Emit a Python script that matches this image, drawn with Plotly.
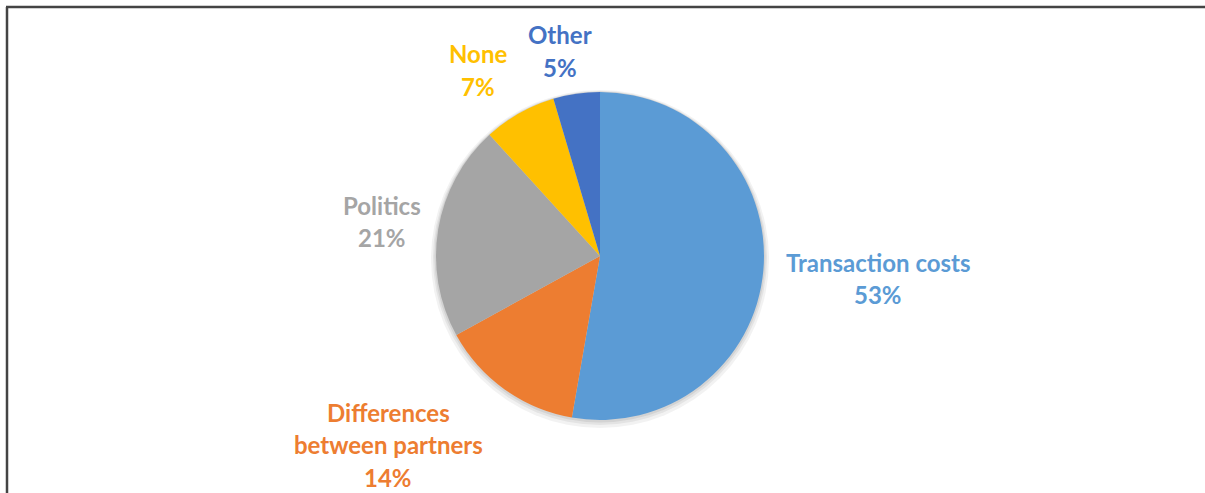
import plotly.graph_objects as go

# ---- data ----
labels = ["Transaction costs", "Differences between partners", "Politics", "None", "Other"]
label_lines = [["Transaction costs"], ["Differences", "between partners"], ["Politics"], ["None"], ["Other"]]
values = [52.9, 14.3, 21.3, 7.2, 4.6]
colors = ["#5B9BD5", "#ED7D31", "#A5A5A5", "#FFC000", "#4472C4"]

# ---- layout helpers (pixel positions of label centers) ----
W, H = 1205, 493
label_pos = [(878, 262), (388, 412), (382, 205), (478, 54), (560, 35)]
line_gap = 32.5

cx, cy, r = 600, 256, 164

def px(x):
    return x / W

def py(y):
    return 1 - y / H

fig = go.Figure()

# soft shadow layers
for grow, dy, a in [(5, 3, 0.05), (3, 2, 0.06), (1.5, 1, 0.07)]:
    rr = r + grow
    fig.add_trace(go.Pie(
        values=[1], labels=["shadow"], marker=dict(colors=[f"rgba(0,0,0,{a})"]),
        textinfo="none", hoverinfo="skip", showlegend=False, sort=False,
        domain=dict(x=[px(cx - rr), px(cx + rr)], y=[py(cy + dy + rr), py(cy + dy - rr)]),
    ))

fig.add_trace(go.Pie(
    labels=labels, values=values, sort=False, direction="clockwise", rotation=0,
    marker=dict(colors=colors, line=dict(width=0)),
    textinfo="none", showlegend=False,
    domain=dict(x=[px(cx - r), px(cx + r)], y=[py(cy + r), py(cy - r)]),
))

total = sum(values)
annotations = []
for lines, v, col, (x, y) in zip(label_lines, values, colors, label_pos):
    all_lines = lines + [f"{round(100 * v / total)}%"]
    for k, t in enumerate(all_lines):
        annotations.append(dict(
            x=px(x), y=py(y + k * line_gap), xref="paper", yref="paper",
            text=f"<b>{t}</b>", showarrow=False, xanchor="center", yanchor="middle",
            font=dict(family="Lato", size=24, color=col),
        ))

shapes = [
    dict(type="line", xref="paper", yref="paper", x0=px(7), x1=px(7), y0=0, y1=py(7),
         line=dict(color="#444444", width=2.5)),
    dict(type="line", xref="paper", yref="paper", x0=px(6), x1=1, y0=py(7), y1=py(7),
         line=dict(color="#444444", width=2.5)),
]

fig.update_layout(
    width=W, height=H, margin=dict(l=0, r=0, t=0, b=0),
    paper_bgcolor="white", plot_bgcolor="white",
    annotations=annotations, shapes=shapes,
)

fig.write_html(
    "out.html",
    config={"displayModeBar": False},
    post_script="document.body.style.margin='0px';document.body.style.overflow='hidden';",
)
